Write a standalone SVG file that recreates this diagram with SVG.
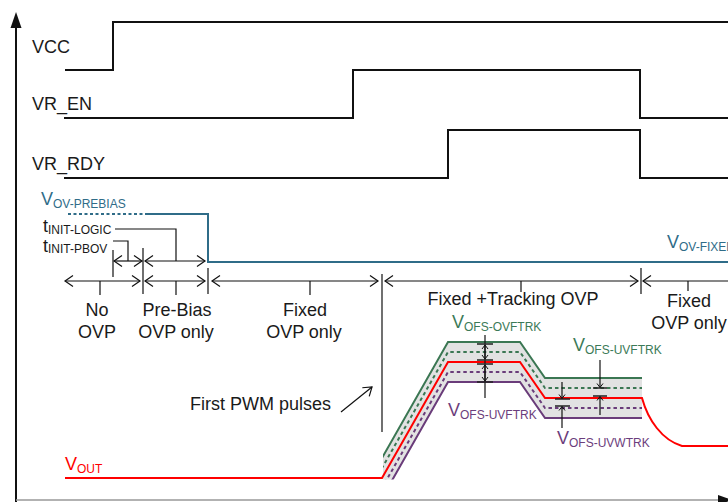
<svg xmlns="http://www.w3.org/2000/svg" width="728" height="502" viewBox="0 0 728 502">
<style>
  text { font-family: "Liberation Sans", Arial, sans-serif; font-size: 18px; fill: #1a1a1a; }
  .sub { font-size: 12px; }
  .sig { fill: none; stroke: #111; stroke-width: 2; }
  .dim { fill: none; stroke: #111; stroke-width: 1.2; }
  .dd { fill: none; stroke: #111; stroke-width: 1.2; marker-start: url(#ch); marker-end: url(#ch); }
  .teal { fill: none; stroke: #2f6c88; stroke-width: 2; }
  .tealt { fill: #2f6c88; }
  .grn { fill: none; stroke: #3b7753; stroke-width: 2; }
  .grnt { fill: #3b7a57; }
  .pur { fill: none; stroke: #6a3c7a; stroke-width: 2; }
  .purt { fill: #6b3d7c; }
  .dash { stroke-dasharray: 3.5 3; }
  .red { fill: none; stroke: #ff0000; stroke-width: 2; }
  .redt { fill: #ff0000; }
  .bar { fill: none; stroke: #222; stroke-width: 1.6; }
</style>
<defs>
  <marker id="ch" markerUnits="userSpaceOnUse" markerWidth="12" markerHeight="14" refX="9" refY="7" orient="auto-start-reverse" overflow="visible">
    <path d="M1,1.5 L9,7 L1,12.5" fill="none" stroke="#111" stroke-width="1.2"/>
  </marker>
  <marker id="sa" markerUnits="userSpaceOnUse" markerWidth="8" markerHeight="8" refX="5" refY="4" orient="auto-start-reverse" overflow="visible">
    <path d="M1,1 L5,4 L1,7" fill="none" stroke="#111" stroke-width="1"/>
  </marker>
  <clipPath id="bandclip">
    <rect x="383" y="300" width="259" height="179.5"/>
  </clipPath>
</defs>

<g id="axes">
  <line x1="16" y1="24" x2="16" y2="502" stroke="#111" stroke-width="2"/>
  <polygon points="16,12 10.5,28 21.5,28" fill="#111"/>
  <line x1="16" y1="500" x2="722" y2="500" stroke="#999" stroke-width="1.5"/>
  <polygon points="718,495 732,500 718,505" fill="#111"/>
</g>

<g id="vcc">
  <text x="32" y="53">VCC</text>
  <path class="sig" d="M65,70 H113 V22 H728"/>
</g>
<g id="vr_en">
  <text x="32" y="110">VR_EN</text>
  <path class="sig" d="M64,118 H353 V70 H640 V118 H728"/>
</g>
<g id="vr_rdy">
  <text x="32" y="170">VR_RDY</text>
  <path class="sig" d="M64,178 H448 V130 H640 V178 H728"/>
</g>

<g id="ov-threshold">
  <text class="tealt" x="41" y="205">V<tspan class="sub" dy="3">OV-PREBIAS</tspan></text>
  <path class="teal" d="M68,214 H145" stroke-dasharray="3 2.5"/>
  <path class="teal" d="M145,214 H208 V262 H728"/>
  <text class="tealt" x="667" y="248">V<tspan class="sub" dy="3">OV-FIXED</tspan></text>
</g>

<g id="timing-labels">
  <text x="43" y="232">t<tspan class="sub" dy="2">INIT-LOGIC</tspan></text>
  <text x="43" y="252">t<tspan class="sub" dy="1">INIT-PBOV</tspan></text>
</g>

<g id="connectors">
  <path class="dim" d="M115,229 H176 V261"/>
  <path class="dim" d="M113,241 H128 V261"/>
  <line class="dd" x1="114" y1="261" x2="142" y2="261"/>
  <line class="dd" x1="145" y1="261" x2="205" y2="261"/>

  <line class="dd" x1="65" y1="281" x2="140" y2="281"/>
  <line class="dd" x1="145" y1="281" x2="205" y2="281"/>
  <line class="dd" x1="212" y1="281" x2="378" y2="281"/>
  <line class="dd" x1="385" y1="281" x2="638" y2="281"/>
  <line class="dim" x1="643" y1="281" x2="740" y2="281" marker-start="url(#ch)"/>

  <path class="dim" d="M100,281 V295 M176,281 V295 M310,281 V295 M521,281 V292 M688,281 V291"/>
  <path class="dim" d="M113,250 V277 M143,248 V294 M208,268 V294 M641,268 V294"/>
  <line class="dim" x1="382" y1="274" x2="382" y2="432"/>
  <line class="dim" x1="341" y1="412" x2="372" y2="387" marker-end="url(#ch)"/>
</g>

<g id="phase-labels" text-anchor="middle">
  <text x="97" y="316">No</text>
  <text x="97" y="338">OVP</text>
  <text x="177" y="316">Pre-Bias</text>
  <text x="176" y="338">OVP only</text>
  <text x="305" y="316">Fixed</text>
  <text x="304" y="338">OVP only</text>
  <text x="513" y="305">Fixed +Tracking OVP</text>
  <text x="689" y="307">Fixed</text>
  <text x="689" y="329">OVP only</text>
</g>
<text x="190" y="410">First PWM pulses</text>

<g id="tracking-band" clip-path="url(#bandclip)">
  <polygon points="372,475.6 448,342 520,342 545,378 642,378 642,418 545,418 520,382 448,382 372,515.6" fill="#e2e2e2"/>
  <polyline class="grn dash" points="372,485.6 448,352 520,352 545,388 642,388"/>
  <polyline class="pur dash" points="372,505.6 448,372 520,372 545,408 642,408"/>
  <polyline class="grn" points="372,475.6 448,342 520,342 545,378 642,378"/>
  <polyline class="pur" points="372,515.6 448,382 520,382 545,418 642,418"/>
</g>

<g id="vout">
  <path class="red" d="M65,478 H382 L448,362 H520 L545,398 H642 C648,420 662,440 682,446 H728"/>
  <text class="redt" x="65" y="470">V<tspan class="sub" dy="3">OUT</tspan></text>
</g>

<g id="offset-dims">
  <line class="dim" x1="485" y1="335" x2="485" y2="398"/>
  <path class="bar" d="M477,344 H493 M477,360 H493 M477,364 H493 M477,382 H493"/>
  <line class="dim" x1="485" y1="345" x2="485" y2="359" marker-start="url(#sa)" marker-end="url(#sa)"/>
  <line class="dim" x1="485" y1="365" x2="485" y2="381" marker-start="url(#sa)" marker-end="url(#sa)"/>

  <path class="bar" d="M555,399 H570 M555,406 H570"/>
  <line class="dim" x1="562" y1="382" x2="562" y2="398.5" marker-end="url(#sa)"/>
  <line class="dim" x1="562" y1="428" x2="562" y2="406.5" marker-end="url(#sa)"/>

  <path class="bar" d="M593,388 H607 M593,396 H607"/>
  <line class="dim" x1="600" y1="360" x2="600" y2="387.5" marker-end="url(#sa)"/>
  <line class="dim" x1="600" y1="415" x2="600" y2="396.5" marker-end="url(#sa)"/>

  <text class="grnt" x="452" y="328">V<tspan class="sub" dy="3">OFS-OVFTRK</tspan></text>
  <text class="grnt" x="573" y="351">V<tspan class="sub" dy="3">OFS-UVFTRK</tspan></text>
  <text class="purt" x="448" y="416">V<tspan class="sub" dy="3">OFS-UVFTRK</tspan></text>
  <text class="purt" x="557" y="444">V<tspan class="sub" dy="3">OFS-UVWTRK</tspan></text>
</g>
</svg>
